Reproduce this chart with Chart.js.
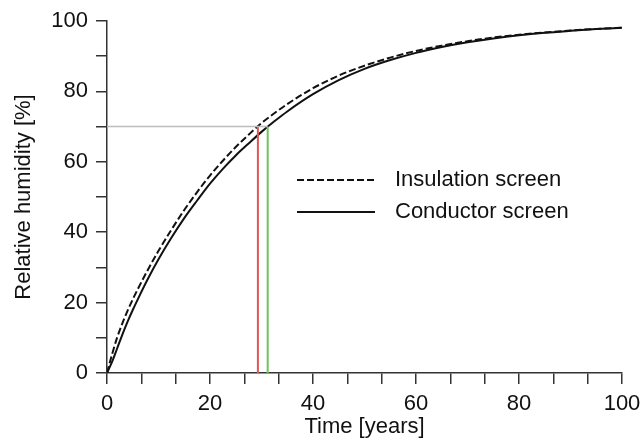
<!DOCTYPE html>
<html><head><meta charset="utf-8">
<script src="https://cdn.jsdelivr.net/npm/chart.js@4/dist/chart.umd.min.js"></script>
<style>html,body{margin:0;padding:0;background:#fff;}#wrap{width:643px;height:440px;position:relative;}</style>
</head><body><div id="wrap"><canvas id="c" width="643" height="440"></canvas></div>
<script>
const timeYears        = [0, 1, 2, 3, 4, 5, 6, 8, 10, 12.5, 15, 17.5, 20, 22.5, 25, 27.5, 30, 32.5, 35, 40, 45, 50, 55, 60, 65, 70, 75, 80, 85, 90, 95, 100];
const insulationScreen = [0, 5.4, 10.2, 14.2, 17.7, 20.9, 23.9, 29.5, 34.7, 40.7, 46.3, 51.4, 56.1, 60.3, 64.2, 67.7, 71.0, 73.8, 76.4, 80.9, 84.5, 87.3, 89.6, 91.5, 93.0, 94.25, 95.3, 96.1, 96.75, 97.3, 97.75, 98.1];
const conductorScreen  = [0, 3.2, 7.1, 11.0, 14.6, 17.9, 21.0, 26.9, 32.3, 38.4, 44.0, 49.0, 53.8, 58.0, 61.8, 65.2, 68.5, 71.5, 74.3, 79.2, 83.2, 86.4, 88.9, 90.95, 92.6, 93.95, 95.05, 95.95, 96.65, 97.2, 97.7, 98.1];
const seriesNames      = ['Insulation screen', 'Conductor screen'];
const thresholdRH      = 70;
const crossingYears    = [29.3, 31.2];   // insulation, conductor
const xTickLabels      = [0, 20, 40, 60, 80, 100];
const yTickLabels      = [0, 20, 40, 60, 80, 100];
const xMinorCount      = 15;              // tick marks every 100/15 years
const yStep            = 10;

const toPts = (xs, ys) => xs.map((x, i) => ({x, y: ys[i]}));
const fontFamily = '"Liberation Sans", Arial, sans-serif';
const font = {family: fontFamily, size: 22};

const inlineLegend = {
  id: 'inlineLegend',
  afterDatasetsDraw(chart) {
    const ctx = chart.ctx;
    const items = chart.data.datasets.filter(d => d.inLegend);
    ctx.save();
    items.forEach((d, i) => {
      const y = 180 + i * 32;
      ctx.beginPath();
      ctx.strokeStyle = d.borderColor;
      ctx.lineWidth = d.borderWidth;
      ctx.setLineDash(d.borderDash || []);
      ctx.moveTo(297, y); ctx.lineTo(375, y);
      ctx.stroke();
      ctx.setLineDash([]);
      ctx.fillStyle = '#111';
      ctx.font = '22px ' + fontFamily;
      ctx.textBaseline = 'middle';
      ctx.textAlign = 'left';
      ctx.fillText(d.label, 395, y);
    });
    ctx.restore();
  }
};

new Chart(document.getElementById('c'), {
  type: 'line',
  data: {
    datasets: [
      {label: 'threshold', data: [{x: 0, y: thresholdRH}, {x: crossingYears[1], y: thresholdRH}], borderColor: '#bdbdbd', borderWidth: 1.5, pointRadius: 0, inLegend: false},
      {label: 'tIns', data: [{x: crossingYears[0], y: 0}, {x: crossingYears[0], y: thresholdRH}], borderColor: '#e05555', borderWidth: 2, pointRadius: 0, inLegend: false},
      {label: 'tCond', data: [{x: crossingYears[1], y: 0}, {x: crossingYears[1], y: thresholdRH}], borderColor: '#6cc45c', borderWidth: 2, pointRadius: 0, inLegend: false},
      {label: seriesNames[0], data: toPts(timeYears, insulationScreen), borderColor: '#111', borderWidth: 2, borderDash: [7, 3], pointRadius: 0, cubicInterpolationMode: 'monotone', inLegend: true},
      {label: seriesNames[1], data: toPts(timeYears, conductorScreen), borderColor: '#111', borderWidth: 2, pointRadius: 0, cubicInterpolationMode: 'monotone', inLegend: true}
    ]
  },
  options: {
    responsive: false,
    animation: false,
    devicePixelRatio: 1,
    layout: {padding: {top: 21, right: 21, bottom: 0, left: 0}},
    plugins: {legend: {display: false}, tooltip: {enabled: false}},
    scales: {
      x: {
        type: 'linear', min: 0, max: 100,
        afterBuildTicks: s => { s.ticks = Array.from({length: xMinorCount + 1}, (_, i) => ({value: i * 100 / xMinorCount})); },
        afterFit: s => { s.height = 67; s.paddingLeft = 0; s.paddingRight = 0; },
        ticks: {autoSkip: false, maxRotation: 0, color: '#111', font, padding: 7,
          callback: v => { const r = Math.round(v); return (Math.abs(v - r) < 1e-6 && xTickLabels.includes(r)) ? String(r) : ''; }},
        grid: {drawOnChartArea: false, drawTicks: true, tickLength: 11, color: '#333', lineWidth: 1.5},
        border: {color: '#333', width: 1.5},
        title: {display: true, text: 'Time [years]', color: '#111', font, padding: {top: 0, bottom: 0}}
      },
      y: {
        type: 'linear', min: 0, max: 100,
        afterFit: s => { s.width = 107; s.paddingTop = 0; s.paddingBottom = 0; },
        ticks: {stepSize: yStep, autoSkip: false, color: '#111', font, padding: 8,
          callback: v => yTickLabels.includes(v) ? String(v) : ''},
        grid: {drawOnChartArea: false, drawTicks: true, tickLength: 11, color: '#333', lineWidth: 1.5},
        border: {color: '#333', width: 1.5},
        title: {display: true, text: 'Relative humidity [%]', color: '#111', font, padding: {top: 11, bottom: 0}}
      }
    }
  },
  plugins: [inlineLegend]
});
</script></body></html>
